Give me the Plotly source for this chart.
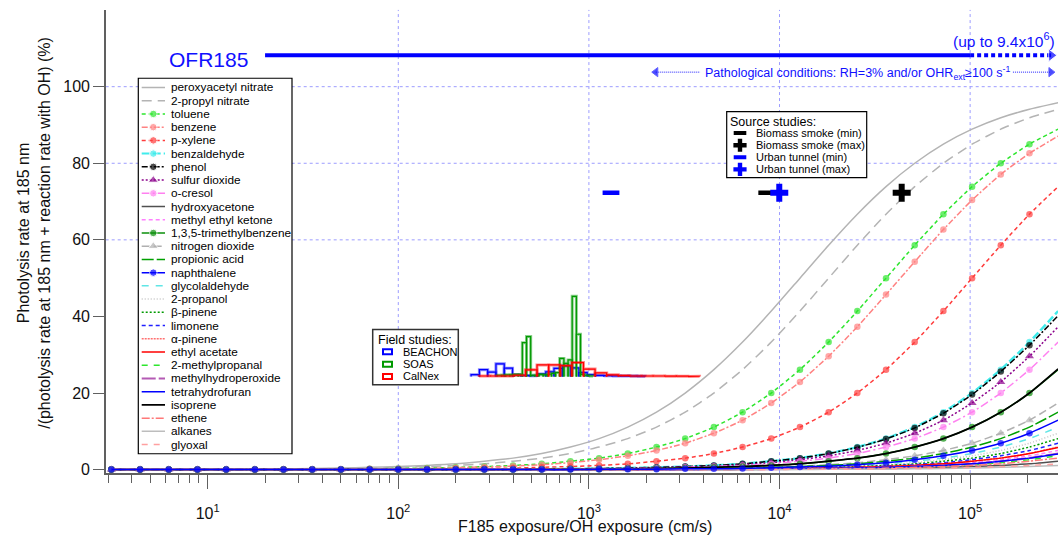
import plotly.graph_objects as go

# ------------------------------------------------------------------ layout constants
W, H = 1060, 538
PL, PR, PT, PB = 105.7, 1058.0, 10.0, 477.5          # plot-area edges (px)
X_RANGE_LOG = [0.465, 5.461]
Y_RANGE = [-0.9, 120.05]
FONT = "Liberation Sans, Arial, sans-serif"
GRID_BLUE = "#9c9cff"
TXT_BLUE = "#1010ff"
AXIS_GRAY = "#606060"

# ------------------------------------------------------------------ data
# F185 exposure / OH exposure (cm/s)
exposure = [3.125, 4.419, 6.25, 8.839, 12.5, 17.68, 25.0, 35.36, 50.0, 70.71,
            100.0, 141.4, 200.0, 282.8, 400.0, 565.7, 800.0, 1131.0, 1600.0, 2263.0,
            3200.0, 4525.0, 6400.0, 9051.0, 12800.0, 18102.0, 25600.0, 36204.0, 51200.0, 72408.0,
            102400.0, 144815.0, 204800.0, 289631.0]

# photolysis at 185 nm / (photolysis + OH reaction) (%)
pan = [0.0, 0.0, 0.0, 0.1, 0.1, 0.1, 0.2, 0.3, 0.4, 0.6, 0.8, 1.1, 1.5, 2.2, 3.0, 4.2, 5.9, 8.1, 11.1, 15.0,
       20.0, 26.1, 33.3, 41.4, 50.0, 58.6, 66.7, 73.9, 80.0, 85.0, 88.9, 91.9, 94.1, 95.8]
propyl_nitrate = [0.0, 0.0, 0.0, 0.0, 0.1, 0.1, 0.1, 0.2, 0.3, 0.4, 0.6, 0.8, 1.1, 1.5, 2.2, 3.0, 4.2, 5.9, 8.1, 11.1,
                  15.0, 20.0, 26.1, 33.3, 41.4, 50.0, 58.6, 66.7, 73.9, 80.0, 85.0, 88.9, 91.9, 94.1]
toluene = [0.0, 0.0, 0.0, 0.0, 0.0, 0.0, 0.1, 0.1, 0.1, 0.2, 0.3, 0.4, 0.6, 0.8, 1.1, 1.5, 2.2, 3.0, 4.2, 5.9,
           8.1, 11.1, 15.0, 20.0, 26.1, 33.3, 41.4, 50.0, 58.6, 66.7, 73.9, 80.0, 85.0, 88.9]
benzene = [0.0, 0.0, 0.0, 0.0, 0.0, 0.0, 0.1, 0.1, 0.1, 0.2, 0.2, 0.3, 0.5, 0.7, 0.9, 1.3, 1.8, 2.6, 3.6, 5.0,
           6.9, 9.5, 12.9, 17.4, 22.9, 29.6, 37.3, 45.7, 54.3, 62.7, 70.4, 77.1, 82.6, 87.1]
p_xylene = [0.0, 0.0, 0.0, 0.0, 0.0, 0.0, 0.0, 0.0, 0.0, 0.1, 0.1, 0.1, 0.2, 0.3, 0.4, 0.6, 0.8, 1.1, 1.5, 2.2,
            3.0, 4.2, 5.9, 8.1, 11.1, 15.0, 20.0, 26.1, 33.3, 41.4, 50.0, 58.6, 66.7, 73.9]
benzaldehyde = [0.0, 0.0, 0.0, 0.0, 0.0, 0.0, 0.0, 0.0, 0.0, 0.0, 0.0, 0.0, 0.0, 0.1, 0.1, 0.1, 0.2, 0.3, 0.4, 0.6,
                0.8, 1.1, 1.5, 2.2, 3.0, 4.2, 5.9, 8.1, 11.1, 15.0, 20.0, 26.1, 33.3, 41.4]
phenol = [0.0, 0.0, 0.0, 0.0, 0.0, 0.0, 0.0, 0.0, 0.0, 0.0, 0.0, 0.0, 0.0, 0.1, 0.1, 0.1, 0.2, 0.3, 0.4, 0.6,
          0.8, 1.1, 1.5, 2.2, 3.0, 4.2, 5.8, 8.0, 10.9, 14.7, 19.6, 25.6, 32.5, 40.2]
sulfur_dioxide = [0.0, 0.0, 0.0, 0.0, 0.0, 0.0, 0.0, 0.0, 0.0, 0.0, 0.0, 0.0, 0.0, 0.1, 0.1, 0.1, 0.2, 0.2, 0.3, 0.5,
                  0.7, 0.9, 1.3, 1.8, 2.6, 3.6, 5.0, 6.9, 9.5, 12.9, 17.4, 22.9, 29.6, 37.3]
o_cresol = [0.0, 0.0, 0.0, 0.0, 0.0, 0.0, 0.0, 0.0, 0.0, 0.0, 0.0, 0.0, 0.0, 0.0, 0.1, 0.1, 0.1, 0.2, 0.3, 0.4,
            0.6, 0.8, 1.1, 1.5, 2.2, 3.0, 4.2, 5.9, 8.1, 11.1, 15.0, 20.0, 26.1, 33.3]
hydroxyacetone = [0.0, 0.0, 0.0, 0.0, 0.0, 0.0, 0.0, 0.0, 0.0, 0.0, 0.0, 0.0, 0.0, 0.0, 0.0, 0.0, 0.0, 0.0, 0.0, 0.0,
                  0.0, 0.0, 0.0, 0.1, 0.1, 0.1, 0.2, 0.3, 0.4, 0.6, 0.8, 1.1, 1.5, 2.2]
methyl_ethyl_ketone = [0.0, 0.0, 0.0, 0.0, 0.0, 0.0, 0.0, 0.0, 0.0, 0.0, 0.0, 0.0, 0.0, 0.0, 0.0, 0.0, 0.0, 0.0, 0.0, 0.0,
                       0.1, 0.1, 0.1, 0.2, 0.2, 0.3, 0.5, 0.7, 0.9, 1.3, 1.8, 2.6, 3.6, 5.0]
trimethylbenzene = [0.0, 0.0, 0.0, 0.0, 0.0, 0.0, 0.0, 0.0, 0.0, 0.0, 0.0, 0.0, 0.0, 0.0, 0.0, 0.1, 0.1, 0.1, 0.2, 0.3,
                    0.4, 0.6, 0.8, 1.1, 1.5, 2.2, 3.0, 4.2, 5.9, 8.1, 11.1, 15.0, 20.0, 26.1]
nitrogen_dioxide = [0.0, 0.0, 0.0, 0.0, 0.0, 0.0, 0.0, 0.0, 0.0, 0.0, 0.0, 0.0, 0.0, 0.0, 0.0, 0.0, 0.1, 0.1, 0.1, 0.2,
                    0.2, 0.3, 0.5, 0.7, 0.9, 1.3, 1.8, 2.6, 3.6, 5.0, 6.9, 9.5, 12.9, 17.4]
propionic_acid = [0.0, 0.0, 0.0, 0.0, 0.0, 0.0, 0.0, 0.0, 0.0, 0.0, 0.0, 0.0, 0.0, 0.0, 0.0, 0.0, 0.0, 0.1, 0.1, 0.1,
                  0.2, 0.3, 0.4, 0.6, 0.8, 1.1, 1.5, 2.2, 3.0, 4.2, 5.9, 8.1, 11.1, 15.0]
naphthalene = [0.0, 0.0, 0.0, 0.0, 0.0, 0.0, 0.0, 0.0, 0.0, 0.0, 0.0, 0.0, 0.0, 0.0, 0.0, 0.0, 0.0, 0.1, 0.1, 0.1,
               0.2, 0.2, 0.3, 0.5, 0.7, 0.9, 1.3, 1.8, 2.6, 3.6, 5.0, 6.9, 9.5, 12.9]
glycolaldehyde = [0.0, 0.0, 0.0, 0.0, 0.0, 0.0, 0.0, 0.0, 0.0, 0.0, 0.0, 0.0, 0.0, 0.0, 0.0, 0.0, 0.0, 0.0, 0.1, 0.1,
                  0.1, 0.2, 0.3, 0.4, 0.6, 0.8, 1.1, 1.5, 2.2, 3.0, 4.2, 5.9, 8.1, 11.1]
propanol_2 = [0.0, 0.0, 0.0, 0.0, 0.0, 0.0, 0.0, 0.0, 0.0, 0.0, 0.0, 0.0, 0.0, 0.0, 0.0, 0.0, 0.0, 0.0, 0.1, 0.1,
              0.1, 0.2, 0.2, 0.3, 0.5, 0.7, 0.9, 1.3, 1.8, 2.6, 3.6, 5.0, 6.9, 9.5]
beta_pinene = [0.0, 0.0, 0.0, 0.0, 0.0, 0.0, 0.0, 0.0, 0.0, 0.0, 0.0, 0.0, 0.0, 0.0, 0.0, 0.0, 0.0, 0.0, 0.0, 0.1,
               0.1, 0.1, 0.2, 0.3, 0.4, 0.6, 0.8, 1.1, 1.5, 2.2, 3.0, 4.2, 5.9, 8.1]
limonene = [0.0, 0.0, 0.0, 0.0, 0.0, 0.0, 0.0, 0.0, 0.0, 0.0, 0.0, 0.0, 0.0, 0.0, 0.0, 0.0, 0.0, 0.0, 0.0, 0.1,
            0.1, 0.1, 0.2, 0.2, 0.3, 0.5, 0.7, 0.9, 1.3, 1.8, 2.6, 3.6, 5.0, 6.9]
alpha_pinene = [0.0, 0.0, 0.0, 0.0, 0.0, 0.0, 0.0, 0.0, 0.0, 0.0, 0.0, 0.0, 0.0, 0.0, 0.0, 0.0, 0.0, 0.0, 0.0, 0.0,
                0.1, 0.1, 0.1, 0.2, 0.3, 0.4, 0.6, 0.8, 1.1, 1.5, 2.2, 3.0, 4.2, 5.9]
ethyl_acetate = [0.0, 0.0, 0.0, 0.0, 0.0, 0.0, 0.0, 0.0, 0.0, 0.0, 0.0, 0.0, 0.0, 0.0, 0.0, 0.0, 0.0, 0.0, 0.0, 0.0,
                 0.1, 0.1, 0.1, 0.2, 0.3, 0.4, 0.6, 0.8, 1.1, 1.5, 2.2, 3.0, 4.2, 5.8]
methylpropanal_2 = [0.0, 0.0, 0.0, 0.0, 0.0, 0.0, 0.0, 0.0, 0.0, 0.0, 0.0, 0.0, 0.0, 0.0, 0.0, 0.0, 0.0, 0.0, 0.0, 0.0,
                    0.0, 0.1, 0.1, 0.1, 0.2, 0.2, 0.3, 0.5, 0.7, 0.9, 1.3, 1.8, 2.6, 3.6]
methylhydroperoxide = [0.0, 0.0, 0.0, 0.0, 0.0, 0.0, 0.0, 0.0, 0.0, 0.0, 0.0, 0.0, 0.0, 0.0, 0.0, 0.0, 0.0, 0.0, 0.0, 0.0,
                       0.0, 0.1, 0.1, 0.1, 0.2, 0.3, 0.4, 0.6, 0.8, 1.1, 1.5, 2.2, 3.0, 4.2]
tetrahydrofuran = [0.0, 0.0, 0.0, 0.0, 0.0, 0.0, 0.0, 0.0, 0.0, 0.0, 0.0, 0.0, 0.0, 0.0, 0.0, 0.0, 0.0, 0.0, 0.0, 0.0,
                   0.0, 0.1, 0.1, 0.1, 0.2, 0.3, 0.4, 0.6, 0.8, 1.1, 1.5, 2.2, 3.0, 4.1]
isoprene = [0.0, 0.0, 0.0, 0.0, 0.0, 0.0, 0.0, 0.0, 0.0, 0.0, 0.0, 0.0, 0.0, 0.0, 0.0, 0.1, 0.1, 0.1, 0.2, 0.3,
            0.4, 0.6, 0.8, 1.1, 1.5, 2.2, 3.0, 4.2, 5.9, 8.1, 11.1, 15.0, 20.0, 26.3]
ethene = [0.0, 0.0, 0.0, 0.0, 0.0, 0.0, 0.0, 0.0, 0.0, 0.0, 0.0, 0.0, 0.0, 0.0, 0.0, 0.0, 0.0, 0.0, 0.0, 0.0,
          0.0, 0.0, 0.1, 0.1, 0.1, 0.2, 0.3, 0.4, 0.6, 0.8, 1.1, 1.5, 2.2, 3.0]
alkanes = [0.0, 0.0, 0.0, 0.0, 0.0, 0.0, 0.0, 0.0, 0.0, 0.0, 0.0, 0.0, 0.0, 0.0, 0.0, 0.0, 0.0, 0.0, 0.0, 0.0,
           0.0, 0.0, 0.0, 0.0, 0.0, 0.1, 0.1, 0.1, 0.2, 0.3, 0.4, 0.6, 0.8, 1.1]
glyoxal = [0.0, 0.0, 0.0, 0.0, 0.0, 0.0, 0.0, 0.0, 0.0, 0.0, 0.0, 0.0, 0.0, 0.0, 0.0, 0.0, 0.0, 0.0, 0.0, 0.0,
           0.0, 0.0, 0.0, 0.0, 0.1, 0.1, 0.1, 0.2, 0.3, 0.4, 0.6, 0.8, 1.1, 1.5]

species = ["peroxyacetyl nitrate", "2-propyl nitrate", "toluene", "benzene", "p-xylene", "benzaldehyde",
           "phenol", "sulfur dioxide", "o-cresol", "hydroxyacetone", "methyl ethyl ketone",
           "1,3,5-trimethylbenzene", "nitrogen dioxide", "propionic acid", "naphthalene", "glycolaldehyde",
           "2-propanol", "β-pinene", "limonene", "α-pinene", "ethyl acetate", "2-methylpropanal",
           "methylhydroperoxide", "tetrahydrofuran", "isoprene", "ethene", "alkanes", "glyoxal"]
values = dict(zip(species, [pan, propyl_nitrate, toluene, benzene, p_xylene, benzaldehyde, phenol,
                            sulfur_dioxide, o_cresol, hydroxyacetone, methyl_ethyl_ketone, trimethylbenzene,
                            nitrogen_dioxide, propionic_acid, naphthalene, glycolaldehyde, propanol_2,
                            beta_pinene, limonene, alpha_pinene, ethyl_acetate, methylpropanal_2,
                            methylhydroperoxide, tetrahydrofuran, isoprene, ethene, alkanes, glyoxal]))
for k, v in values.items():
    assert len(v) == len(exposure), (k, len(v))

# field-study histograms of F185/OH exposure (bin edges, cm/s) and bar heights (axis units)
beachon_edges = [241.0, 266.4, 294.4, 325.4, 359.7, 397.6, 439.5, 485.8, 537.0, 593.6, 656.1, 725.2,
                 801.7, 886.1, 979.5, 1082.7, 1196.8, 1322.9, 1462.2, 1616.3, 1786.5, 1974.7]
beachon_height = [0.44, 1.74, 1.11, 3.29, 2.15, 0.44, 0.26, 0.18, 0.65, 1.2, 2.1, 2.75, 2.2, 1.0,
                  0.45, 0.26, 0.18, 0.13, 0.08, 0.08, 0.05]
soas_edges = [331.1, 348.2, 366.0, 384.9, 404.8, 425.6, 447.6, 470.6, 494.9, 520.3, 547.0, 575.2,
              604.8, 636.0, 668.8, 703.1, 739.3, 777.4, 817.4, 859.5, 903.6, 950.2, 999.1, 1050.5]
soas_height = [0.3, 0.3, 0.4, 0.4, 0.5, 0.5, 8.8, 10.4, 0.3, 0.3, 0.5, 0.4, 0.6, 0.8, 1.0, 4.7,
               3.4, 4.3, 20.9, 11.0, 0.5, 0.3, 0.1]
calnex_edges = [265.1, 305.0, 351.0, 403.8, 464.5, 534.4, 614.9, 707.5, 814.0, 936.5, 1077.5,
                1239.7, 1426.3, 1641.0, 1888.0, 2172.3, 2499.3, 2875.4, 3308.3, 3806.3]
calnex_height = [0.1, 0.1, 0.1, 0.3, 1.7, 3.0, 3.0, 2.8, 3.6, 1.9, 0.9, 0.4, 0.2, 0.1, 0.1, 0.1,
                 0.05, 0.05, 0.03]
field_names = ["BEACHON", "SOAS", "CalNex"]

# source studies
source_labels = ["Biomass smoke (min)", "Biomass smoke (max)", "Urban tunnel (min)", "Urban tunnel (max)"]
source_exposure = [8570.0, 43750.0, 1306.0, 9970.0]

# OFR185 ranges
ofr_range = [20.0, 100000.0]          # typical
ofr_extension = [100000.0, 267000.0]  # up to 9.4e6 (off scale)
pathological_range = [2136.0, 278600.0]

# ------------------------------------------------------------------ styles
STYLE = {
    "peroxyacetyl nitrate": ("#b4b4b4", "solid", 1.5, None),
    "2-propyl nitrate": ("#b4b4b4", "10px,6px", 1.5, None),
    "toluene": ("#2ee62e", "4px,3px", 1.5, "circle"),
    "benzene": ("#ff8282", "6px,2px,2px,2px", 1.5, "circle"),
    "p-xylene": ("#ff3c3c", "4px,3px", 1.5, "circle"),
    "benzaldehyde": ("#40ecec", "8px,3px", 2.5, "circle"),
    "phenol": ("#000000", "6px,2px,2px,2px", 1.5, "circle"),
    "sulfur dioxide": ("#8b008b", "2px,2px", 1.5, "triangle-up"),
    "o-cresol": ("#ff80f0", "8px,3px,2px,3px", 1.5, "circle"),
    "hydroxyacetone": ("#505050", "solid", 1.5, None),
    "methyl ethyl ketone": ("#ff80ff", "4px,3px", 1.5, None),
    "1,3,5-trimethylbenzene": ("#0a8f0a", "solid", 1.5, "circle"),
    "nitrogen dioxide": ("#b0b0b0", "8px,4px", 1.5, "triangle-up"),
    "propionic acid": ("#00a000", "12px,3px", 1.5, None),
    "naphthalene": ("#0000ff", "solid", 1.5, "circle"),
    "glycolaldehyde": ("#60e6e6", "7px,7px", 1.5, None),
    "2-propanol": ("#c4c4c4", "1px,2px", 1.5, None),
    "β-pinene": ("#009a00", "2px,2px", 1.5, None),
    "limonene": ("#2020ff", "4px,3px", 1.5, None),
    "α-pinene": ("#ff7070", "2px,1px", 1.5, None),
    "ethyl acetate": ("#ff0000", "solid", 1.5, None),
    "2-methylpropanal": ("#2ee62e", "6px,6px", 1.5, None),
    "methylhydroperoxide": ("#b45ab4", "14px,3px", 2.0, None),
    "tetrahydrofuran": ("#0000ff", "solid", 1.5, None),
    "isoprene": ("#000000", "solid", 1.8, None),
    "ethene": ("#ff7878", "8px,2px,2px,2px", 1.5, None),
    "alkanes": ("#bdbdbd", "solid", 1.5, None),
    "glyoxal": ("#ffa0a0", "6px,6px", 1.5, None),
}
FIELD_COLORS = {"BEACHON": "#0000ff", "SOAS": "#009900", "CalNex": "#ff0000"}
HIST_BASE = 24.35      # baseline of the histograms on the y axis
SOURCE_Y = 72.3        # vertical placement of source-study markers
OFR_Y = 108.2
PATH_Y = 103.8


def mk_size(symbol):
    return 8 if symbol and symbol.startswith("triangle") else 6.5


fig = go.Figure()

# ------------------------------------------------------------------ model curves
draw_order = [s for s in species if s != "naphthalene"] + ["naphthalene"]
npts = len(exposure)
for name in draw_order:
    color, dash, width, symbol = STYLE[name]
    tr = dict(x=exposure, y=values[name], name=name, showlegend=False,
              line=dict(color=color, dash=dash, width=width, shape="spline", smoothing=0.5))
    if symbol:
        tr["mode"] = "lines+markers"
        tr["marker"] = dict(symbol=symbol, color=color, size=[mk_size(symbol)] * (npts - 1) + [0],
                            line=dict(width=0))
    else:
        tr["mode"] = "lines"
    fig.add_trace(go.Scatter(**tr))


# ------------------------------------------------------------------ field-study histograms
def hist_path(edges, heights):
    xs, ys = [], []
    for i, h in enumerate(heights):
        xs += [edges[i], edges[i], edges[i + 1], edges[i + 1], None]
        ys += [HIST_BASE, HIST_BASE + h, HIST_BASE + h, HIST_BASE, None]
    return xs, ys


for name, edges, heights in [("BEACHON", beachon_edges, beachon_height),
                             ("SOAS", soas_edges, soas_height),
                             ("CalNex", calnex_edges, calnex_height)]:
    xs, ys = hist_path(edges, heights)
    c = FIELD_COLORS[name]
    fig.add_trace(go.Scatter(x=xs, y=ys, mode="lines", line=dict(color=c, width=3), opacity=0.45,
                             showlegend=False, hoverinfo="skip"))
    fig.add_trace(go.Scatter(x=xs, y=ys, mode="lines", line=dict(color=c, width=1.2), name=name,
                             showlegend=False))

# ------------------------------------------------------------------ source-study markers
src_style = [("line-ew", "#000000"), ("cross", "#000000"), ("line-ew", "#0000ff"), ("cross", "#0000ff")]
for lab, xv, (sym, col) in zip(source_labels, source_exposure, src_style):
    if sym == "line-ew":
        mk = dict(symbol=sym, size=12, line=dict(width=4.5, color=col))
    else:
        mk = dict(symbol=sym, size=15, color=col, line=dict(width=0))
    fig.add_trace(go.Scatter(x=[xv], y=[SOURCE_Y], mode="markers", marker=mk, name=lab, showlegend=False))

# ------------------------------------------------------------------ OFR185 + pathological arrows
fig.add_trace(go.Scatter(x=ofr_range, y=[OFR_Y] * 2, mode="lines",
                         line=dict(color="#0000ff", width=4), showlegend=False))
fig.add_trace(go.Scatter(x=ofr_extension, y=[OFR_Y] * 2, mode="lines+markers",
                         line=dict(color="#0000ff", width=4, dash="4px,3px"),
                         marker=dict(symbol="triangle-right", size=[0, 11], color="#0000ff"),
                         showlegend=False))
p_lo, p_hi = pathological_range
fig.add_trace(go.Scatter(x=[p_lo * 1.05, 3829.0], y=[PATH_Y] * 2, mode="lines+markers",
                         line=dict(color="#2020ff", width=1, dash="1px,1px"),
                         marker=dict(symbol="triangle-left", size=[8, 0], color="#0000ff"),
                         showlegend=False))
fig.add_trace(go.Scatter(x=[167700.0, p_hi / 1.05], y=[PATH_Y] * 2, mode="lines+markers",
                         line=dict(color="#2020ff", width=1, dash="1px,1px"),
                         marker=dict(symbol="triangle-right", size=[0, 8], color="#0000ff"),
                         showlegend=False))

# ------------------------------------------------------------------ legend samples (pixel overlay axes)
LEG_X = [141.7, 153.3, 165.0]
LEG_Y0, LEG_DY = 88.3, 13.35
for i, name in enumerate(species):
    color, dash, width, symbol = STYLE[name]
    yy = LEG_Y0 + LEG_DY * i
    tr = dict(x=LEG_X, y=[yy] * 3, xaxis="x2", yaxis="y2", showlegend=False, hoverinfo="skip",
              line=dict(color=color, dash=dash, width=min(width, 2.0)))
    if symbol:
        tr["mode"] = "lines+markers"
        tr["marker"] = dict(symbol=symbol, color=color, size=[0, mk_size(symbol) + 1, 0])
    else:
        tr["mode"] = "lines"
    fig.add_trace(go.Scatter(**tr))

SRC_ROWS = [134.3, 146.6, 158.8, 171.0]
for yy, (sym, col) in zip(SRC_ROWS, src_style):
    if sym == "line-ew":
        mk = dict(symbol=sym, size=9, line=dict(width=4, color=col))
    else:
        mk = dict(symbol=sym, size=11, color=col, line=dict(width=0))
    fig.add_trace(go.Scatter(x=[740.0], y=[yy], xaxis="x2", yaxis="y2", mode="markers", marker=mk,
                             showlegend=False, hoverinfo="skip"))

# ------------------------------------------------------------------ shapes
shapes = []
for v in [60, 80, 100]:
    shapes.append(dict(type="line", xref="x domain", yref="y", x0=0, x1=1, y0=v, y1=v, layer="below",
                       line=dict(color=GRID_BLUE, width=1, dash="dot")))
for v in [1e2, 1e3, 1e4, 1e5]:
    shapes.append(dict(type="line", xref="x", yref="y domain", x0=v, x1=v, y0=0, y1=1, layer="below",
                       line=dict(color=GRID_BLUE, width=1, dash="dot")))
# legend boxes
for (x0, x1, y0, y1, lw, lc) in [(138.3, 292.0, 79.0, 458.0, 1.2, "#000000"),
                                 (372.7, 458.3, 332.7, 388.3, 1.5, "#333333"),
                                 (726.7, 866.7, 112.7, 179.3, 1.2, "#000000")]:
    shapes.append(dict(type="rect", xref="x2", yref="y2", x0=x0, x1=x1, y0=y0, y1=y1, layer="below",
                       fillcolor="white", line=dict(color=lc, width=lw)))
FIELD_ROWS = [355.0, 367.7, 380.0]
for yy, name in zip(FIELD_ROWS, field_names):
    shapes.append(dict(type="rect", xref="x2", yref="y2", x0=383.0, x1=392.0, y0=yy - 2.5, y1=yy + 2.5,
                       layer="below", fillcolor="rgba(0,0,0,0)",
                       line=dict(color=FIELD_COLORS[name], width=2)))

# ------------------------------------------------------------------ annotations (pixel -> paper)
def P(x, y):
    return dict(xref="paper", yref="paper", x=x / W, y=1 - y / H)


ann = []


def text(x, y, s, size, color="#000000", xanchor="left", **kw):
    d = P(x, y)
    d.update(text=s, showarrow=False, xanchor=xanchor, yanchor="middle",
             font=dict(family=FONT, size=size, color=color))
    d.update(kw)
    ann.append(d)


for i, name in enumerate(species):
    text(169.0, LEG_Y0 + LEG_DY * i, name, 11.8)

text(375.5, 342.7, "Field studies:", 12.5)
for yy, name in zip(FIELD_ROWS, field_names):
    text(400.5, yy, name, 11)

text(728.0, 122.7, "Source studies:", 12.5)
for yy, lab in zip(SRC_ROWS, source_labels):
    text(754.0, yy, lab, 11)

text(208.3, 60.0, "OFR185", 21, TXT_BLUE, xanchor="center")
text(1057.0, 40.5, "(up to 9.4x10<sup>6</sup>)", 15.5, TXT_BLUE, xanchor="right")
text(857.0, 73.3, "Pathological conditions: RH=3% and/or OHR<sub>ext</sub>≥100 s<sup>-1</sup>", 12.5,
     TXT_BLUE, xanchor="center")

text(585.0, 531.5, "F185 exposure/OH exposure (cm/s)", 16, "#111111", xanchor="center")
text(34.0, 235.0, "Photolysis rate at 185 nm<br>/(photolysis rate at 185 nm + reaction rate with OH) (%)",
     16, "#111111", xanchor="center", textangle=-90)

# ------------------------------------------------------------------ axes / layout
minor_vals = [m * 10 ** d for d in range(0, 6) for m in range(2, 10)]
fig.update_layout(
    width=W, height=H,
    margin=dict(l=0, r=0, t=0, b=0),
    paper_bgcolor="white", plot_bgcolor="white",
    showlegend=False,
    font=dict(family=FONT, color="#111111"),
    xaxis=dict(type="log", range=X_RANGE_LOG, domain=[PL / W, PR / W],
               tickvals=[1e1, 1e2, 1e3, 1e4, 1e5],
               ticktext=["10<sup>1</sup>", "10<sup>2</sup>", "10<sup>3</sup>", "10<sup>4</sup>", "10<sup>5</sup>"],
               ticks="outside", ticklen=14, tickwidth=1, tickcolor=AXIS_GRAY, ticklabelstandoff=11,
               minor=dict(tickvals=minor_vals, ticks="outside", ticklen=8, tickwidth=1, tickcolor=AXIS_GRAY,
                          showgrid=False),
               showline=True, linecolor=AXIS_GRAY, linewidth=1.5, showgrid=False, zeroline=False,
               tickfont=dict(family=FONT, size=16, color="#111111"), fixedrange=True),
    yaxis=dict(range=Y_RANGE, domain=[1 - PB / H, 1 - PT / H],
               tickvals=[0, 20, 40, 60, 80, 100], ticks="outside", ticklen=11, tickwidth=1,
               tickcolor=AXIS_GRAY, showline=True, linecolor=AXIS_GRAY, linewidth=1.5,
               showgrid=False, zeroline=False,
               tickfont=dict(family=FONT, size=16, color="#111111"), fixedrange=True),
    xaxis2=dict(overlaying="x", anchor="y2", range=[PL, PR], visible=False, fixedrange=True),
    yaxis2=dict(overlaying="y", anchor="x2", range=[PB, PT], visible=False, fixedrange=True),
    shapes=shapes,
    annotations=ann,
)

fig.write_html("out.html", config={"displayModeBar": False, "staticPlot": True},
               post_script="document.body.style.margin='0';document.body.style.padding='0';"
                           "document.body.style.overflow='hidden';")
